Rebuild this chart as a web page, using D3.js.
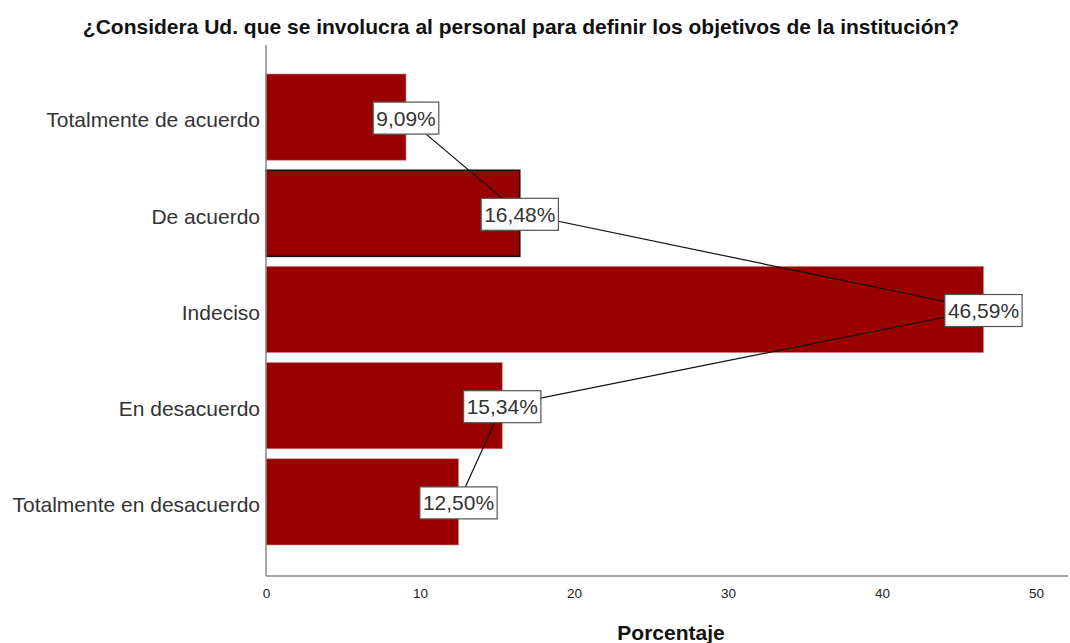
<!DOCTYPE html>
<html>
<head>
<meta charset="utf-8">
<script src="https://cdn.jsdelivr.net/npm/d3@7/dist/d3.min.js"></script>
<style>
  html, body { margin: 0; padding: 0; background: #fff; }
  svg { display: block; font-family: "Liberation Sans", Arial, sans-serif; }
</style>
</head>
<body>
<svg id="chart" width="1070" height="643"></svg>
<script>
// Survey responses: share of staff for each answer
const categories = [
  "Totalmente de acuerdo",
  "De acuerdo",
  "Indeciso",
  "En desacuerdo",
  "Totalmente en desacuerdo"
];
const percentages = [9.09, 16.48, 46.59, 15.34, 12.50];
const xTicks = [0, 10, 20, 30, 40, 50];
const title = "¿Considera Ud. que se involucra al personal para definir los objetivos de la institución?";
const xTitle = "Porcentaje";
const highlighted = "De acuerdo";

const svg = d3.select("#chart");

const plot = { left: 266, right: 1068, top: 45, bottom: 576 };

const x = d3.scaleLinear().domain([0, 50]).range([plot.left, 1036]);
const y = d3.scaleBand()
  .domain(categories)
  .range([69, 550])
  .paddingInner(10 / 96)
  .paddingOuter(5 / 96);

const barColor = "#990000";
const textColor = "#333333";

// Title
svg.append("text")
  .attr("x", 521).attr("y", 34)
  .attr("text-anchor", "middle")
  .attr("font-size", 21).attr("font-weight", "bold")
  .attr("fill", "#111")
  .text(title);

// Bars
svg.append("g").selectAll("rect")
  .data(categories)
  .join("rect")
  .attr("x", x(0))
  .attr("y", d => y(d))
  .attr("width", (d, i) => x(percentages[i]) - x(0))
  .attr("height", y.bandwidth())
  .attr("fill", barColor)
  .attr("stroke", d => d === highlighted ? "#111" : "#d98080")
  .attr("stroke-width", d => d === highlighted ? 1.5 : 0.6);

// Axis lines
svg.append("line")
  .attr("x1", plot.left).attr("x2", plot.left)
  .attr("y1", plot.top).attr("y2", plot.bottom)
  .attr("stroke", "#888").attr("stroke-width", 1.5);
svg.append("line")
  .attr("x1", plot.left).attr("x2", plot.right)
  .attr("y1", plot.bottom).attr("y2", plot.bottom)
  .attr("stroke", "#888").attr("stroke-width", 1.5);

// X tick labels
const xAxis = d3.axisBottom(x).tickValues(xTicks).tickSize(0).tickPadding(0)
  .tickFormat(d3.format("d"));
const gx = svg.append("g")
  .attr("transform", `translate(0,${plot.bottom + 12})`)
  .call(xAxis);
gx.select(".domain").remove();
gx.selectAll("text")
  .attr("font-size", 13.5)
  .attr("font-family", "Liberation Sans, Arial, sans-serif")
  .attr("fill", "#222");

// Category labels
const yAxis = d3.axisLeft(y).tickSize(0).tickPadding(0);
const gy = svg.append("g")
  .attr("transform", `translate(${plot.left - 6},3.5)`)
  .call(yAxis);
gy.select(".domain").remove();
gy.selectAll("text")
  .attr("font-size", 21)
  .attr("font-family", "Liberation Sans, Arial, sans-serif")
  .attr("fill", textColor);

// X axis title
svg.append("text")
  .attr("x", 671).attr("y", 640)
  .attr("text-anchor", "middle")
  .attr("font-size", 21).attr("font-weight", "bold")
  .attr("fill", "#111")
  .text(xTitle);

// Connector line joining the value labels
const pts = categories.map((c, i) => [x(percentages[i]), y(c) + y.bandwidth() / 2]);
svg.append("path")
  .attr("d", d3.line()(pts))
  .attr("fill", "none")
  .attr("stroke", "#111")
  .attr("stroke-width", 1.2);

// Value labels in boxes
const fmt = v => d3.format(".2f")(v).replace(".", ",") + "%";
const lbl = svg.append("g").selectAll("g")
  .data(categories)
  .join("g")
  .attr("transform", (c, i) => `translate(${x(percentages[i])},${y(c) + y.bandwidth() / 2 + 1})`);
lbl.append("text")
  .attr("text-anchor", "middle")
  .attr("dy", "0.36em")
  .attr("font-size", 21)
  .attr("fill", textColor)
  .text((c, i) => fmt(percentages[i]));
lbl.each(function () {
  const g = d3.select(this);
  const bb = g.select("text").node().getBBox();
  g.insert("rect", "text")
    .attr("x", bb.x - 3).attr("y", -16)
    .attr("width", bb.width + 6).attr("height", 32)
    .attr("fill", "#fff")
    .attr("stroke", "#555").attr("stroke-width", 1.2);
});
</script>
</body>
</html>
